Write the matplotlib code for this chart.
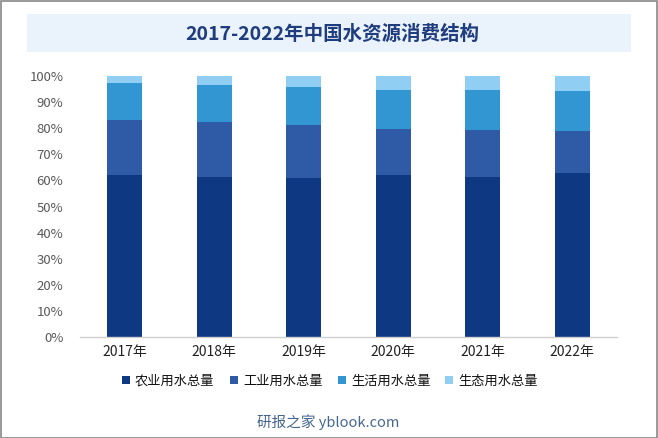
import numpy as np
import matplotlib.pyplot as plt
import matplotlib.ticker as mticks
from matplotlib.patches import Rectangle

plt.switch_backend('agg')
plt.rcParams['font.family'] = ['Noto Sans CJK SC', 'DejaVu Sans']

# data (share of total water use, %)
years = ['2017年', '2018年', '2019年', '2020年', '2021年', '2022年']
agri = [61.9, 61.2, 60.8, 61.9, 61.2, 62.7]
indus = [21.2, 21.1, 20.4, 17.7, 18.0, 16.1]
domestic = [14.2, 14.2, 14.6, 15.0, 15.4, 15.4]
eco = [2.7, 3.5, 4.2, 5.4, 5.4, 5.8]
series_names = ['农业用水总量', '工业用水总量', '生活用水总量', '生态用水总量']
colors = ['#0E3882', '#2E5AA6', '#3196D2', '#91CEF4']

fig = plt.figure(figsize=(6.58, 4.38), dpi=100)
ax = fig.add_axes([80/658, 1-337/438, 537/658, 261/438])

x = np.arange(len(years))
bottom = np.zeros(len(years))
handles = []
for vals, name, c in zip([agri, indus, domestic, eco], series_names, colors):
    v = np.array(vals) / 100.0
    b = ax.bar(x, v, width=0.39, bottom=bottom, color=c, label=name, linewidth=0)
    handles.append(b)
    bottom = bottom + v

ax.set_xlim(-0.5, len(years) - 0.5)
ax.set_ylim(0, 1)
ax.yaxis.set_major_locator(mticks.MultipleLocator(0.1))
ax.yaxis.set_major_formatter(mticks.PercentFormatter(1.0, decimals=0))
ax.set_xticks(x)
ax.set_xticklabels(years, fontsize=10, color='#222222')
ax.tick_params(axis='y', labelsize=9.5, colors='#595959', length=0, pad=12)
ax.tick_params(axis='x', length=0, pad=6)
for s in ['top', 'right', 'left']:
    ax.spines[s].set_visible(False)
ax.spines['bottom'].set_color('#D0D0D0')
ax.spines['bottom'].set_linewidth(1)

# title band
fig.patches.append(Rectangle((27/658, 1-52/438), 604/658, 38/438,
                             transform=fig.transFigure, facecolor='#EAF2FC',
                             edgecolor='none', zorder=0))
fig.text(332/658, 1-34/438, '2017-2022年中国水资源消费结构', ha='center', va='center',
         fontsize=14, fontweight='bold', color='#1E3C7E')

# legend
leg = fig.legend(handles=handles, loc='center', bbox_to_anchor=(330/658, 1-381/438),
                 ncol=4, frameon=False, fontsize=9.5, handlelength=0.6, handleheight=0.6,
                 handletextpad=0.4, columnspacing=1.15)
for t in leg.get_texts():
    t.set_color('#111111')

# watermark
fig.text(328/658, 1-422/438, '研报之家 yblook.com', ha='center', va='center',
         fontsize=10.5, color='#47668F')

# outer frame
fig.patches.append(Rectangle((0.5/658, 0.5/438), 656.5/658, 436.5/438,
                             transform=fig.transFigure, facecolor='none',
                             edgecolor='#888888', linewidth=1.2, zorder=5))

plt.savefig('out.png', dpi=100)
plt.close()
